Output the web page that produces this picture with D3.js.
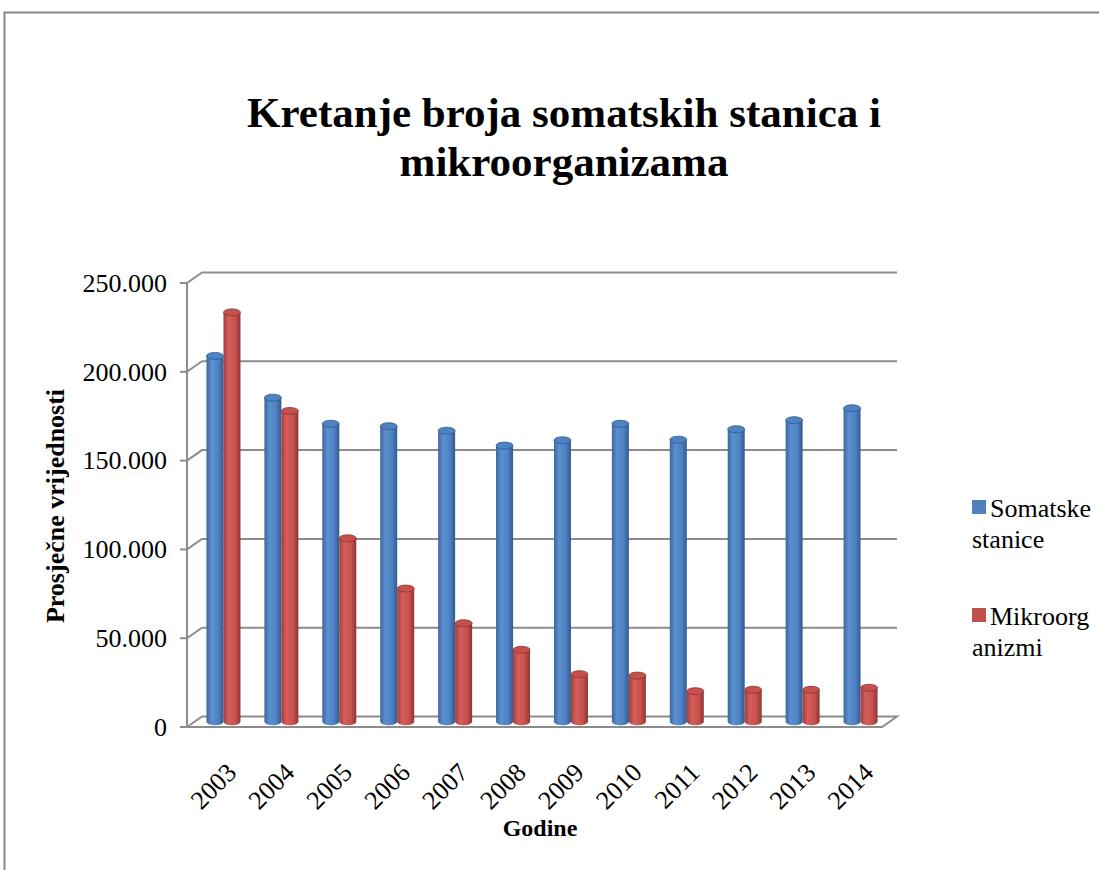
<!DOCTYPE html>
<html>
<head>
<meta charset="utf-8">
<script src="https://cdn.jsdelivr.net/npm/d3@7"></script>
<style>
  body { margin: 0; background: #fff; }
  text { font-family: "Liberation Serif", "Times New Roman", serif; fill: #000; }
</style>
</head>
<body>
<div id="chart"></div>
<script>
// Data
const years = ["2003", "2004", "2005", "2006", "2007", "2008", "2009", "2010", "2011", "2012", "2013", "2014"];
const somatske = [206000, 182500, 167800, 166400, 163900, 155500, 158500, 167800, 158800, 164700, 169800, 176500];
const mikroorganizmi = [230500, 175000, 103300, 75000, 55500, 40500, 26800, 26000, 17200, 18000, 18000, 19100];
const seriesNames = ["Somatske stanice", "Mikroorganizmi"];
const legendLines = [["Somatske", "stanice"], ["Mikroorg", "anizmi"]];
const yTicks = [0, 50000, 100000, 150000, 200000, 250000];

const width = 1099, height = 870;
const colors = ["#4f81bd", "#c0504d"];
const serif = '"Liberation Serif", "Times New Roman", serif';

// Front plane of the plot and 3D depth offset
const plotLeft = 187, plotRight = 882, plotBottom = 727, plotTop = 283;
const dx = 15, dy = -10.5;

const svg = d3.select("#chart").append("svg")
    .attr("width", width)
    .attr("height", height);

// Gradients for the cylinders
const defs = svg.append("defs");
const shades = [
    ["#3b679d", "#5b8fd0", "#4d82c3", "#33598c"],
    ["#a03e3c", "#d65d5a", "#c5514e", "#8e3533"]
];
shades.forEach((s, i) => {
    const g = defs.append("linearGradient").attr("id", "cyl" + i)
        .attr("x1", "0%").attr("x2", "100%").attr("y1", "0%").attr("y2", "0%");
    g.append("stop").attr("offset", "0%").attr("stop-color", s[0]);
    g.append("stop").attr("offset", "30%").attr("stop-color", s[1]);
    g.append("stop").attr("offset", "70%").attr("stop-color", s[2]);
    g.append("stop").attr("offset", "100%").attr("stop-color", s[3]);
});

// Outer frame
svg.append("rect")
    .attr("x", 4.5).attr("y", 12.5)
    .attr("width", 1200).attr("height", 1000)
    .attr("fill", "none")
    .attr("stroke", "#868686")
    .attr("stroke-width", 2);

// Title
const title = svg.append("text")
    .attr("text-anchor", "middle")
    .attr("font-family", serif)
    .style("font-size", "43px")
    .style("font-weight", "bold");
title.append("tspan").attr("x", 564).attr("y", 127).text("Kretanje broja somatskih stanica i");
title.append("tspan").attr("x", 564).attr("y", 176).text("mikroorganizama");

// Scales
const y = d3.scaleLinear().domain([0, 250000]).range([plotBottom, plotTop]);
const x0 = d3.scaleBand().domain(years).range([plotLeft, plotRight]).paddingInner(0).paddingOuter(0);
const x1 = d3.scaleBand().domain([0, 1]).range([0, 34]);
const bandPad = (x0.bandwidth() - 34) / 2;

const grid = svg.append("g")
    .attr("stroke", "#8c8c8c")
    .attr("stroke-width", 2)
    .attr("fill", "none");

// Back wall gridlines with the left diagonal
yTicks.filter(t => t > 0).forEach(t => {
    const yy = y(t);
    grid.append("path")
        .attr("d", `M${plotLeft},${yy}L${plotLeft + dx},${yy + dy}L${plotRight + dx},${yy + dy}`);
});

// Floor
grid.append("path")
    .attr("d", `M${plotLeft},${plotBottom}L${plotLeft + dx},${plotBottom + dy}L${plotRight + dx},${plotBottom + dy}L${plotRight},${plotBottom}Z`);

// Front vertical axis and ticks
grid.append("line")
    .attr("x1", plotLeft).attr("x2", plotLeft)
    .attr("y1", plotTop).attr("y2", plotBottom);
yTicks.forEach(t => {
    grid.append("line")
        .attr("x1", plotLeft - 7).attr("x2", plotLeft)
        .attr("y1", y(t)).attr("y2", y(t));
});

// Y tick labels
const fmt = v => v === 0 ? "0" : d3.format(",")(v).replace(/,/g, ".");
svg.append("g").selectAll("text")
    .data(yTicks)
    .enter().append("text")
    .attr("x", 167)
    .attr("y", d => y(d))
    .attr("dy", "0.34em")
    .attr("text-anchor", "end")
    .attr("font-family", serif)
    .style("font-size", "26px")
    .text(fmt);

// Cylinders (placed at mid depth)
const ox = dx / 2, oy = dy / 2;
const ry = 3.5;
const bars = [];
years.forEach((yr, i) => {
    [somatske[i], mikroorganizmi[i]].forEach((v, s) => {
        bars.push({ year: yr, s: s, v: v });
    });
});

const barG = svg.append("g");
bars.forEach(d => {
    const bx = x0(d.year) + bandPad + x1(d.s) + ox;
    const bw = x1.bandwidth();
    const yb = y(0) + oy;
    const yt = y(d.v) + oy;
    const g = barG.append("g");
    // body
    g.append("path")
        .attr("d", `M${bx},${yt}L${bx},${yb}A${bw / 2},${ry} 0 0 0 ${bx + bw},${yb}L${bx + bw},${yt}Z`)
        .attr("fill", `url(#cyl${d.s})`);
    // top cap
    g.append("ellipse")
        .attr("cx", bx + bw / 2).attr("cy", yt)
        .attr("rx", bw / 2).attr("ry", ry)
        .attr("fill", shades[d.s][2])
        .attr("stroke", shades[d.s][3])
        .attr("stroke-width", 0.8);
});

// X labels rotated
svg.append("g").selectAll("text")
    .data(years)
    .enter().append("text")
    .attr("text-anchor", "end")
    .attr("font-family", serif)
    .attr("transform", d => `translate(${x0(d) + x0.bandwidth() / 2 + 22},${774}) rotate(-45)`)
    .style("font-size", "26px")
    .text(d => d);

// Axis titles
svg.append("text")
    .attr("text-anchor", "middle")
    .attr("font-family", serif)
    .attr("transform", "translate(64,506) rotate(-90)")
    .style("font-size", "26px")
    .style("font-weight", "bold")
    .text("Prosječne vrijednosti");

svg.append("text")
    .attr("x", 540).attr("y", 836)
    .attr("text-anchor", "middle")
    .attr("font-family", serif)
    .style("font-size", "24px")
    .style("font-weight", "bold")
    .text("Godine");

// Legend
const legend = svg.append("g");
legendLines.forEach((lines, i) => {
    const ly = 500 + i * 108;
    legend.append("rect")
        .attr("x", 972).attr("y", ly)
        .attr("width", 14).attr("height", 14)
        .attr("fill", colors[i]);
    const t = legend.append("text")
        .attr("font-family", serif)
        .style("font-size", "26px");
    lines.forEach((l, j) => {
        t.append("tspan")
            .attr("x", j === 0 ? 990 : 972)
            .attr("y", ly + 17 + j * 31)
            .text(l);
    });
});
</script>
</body>
</html>
